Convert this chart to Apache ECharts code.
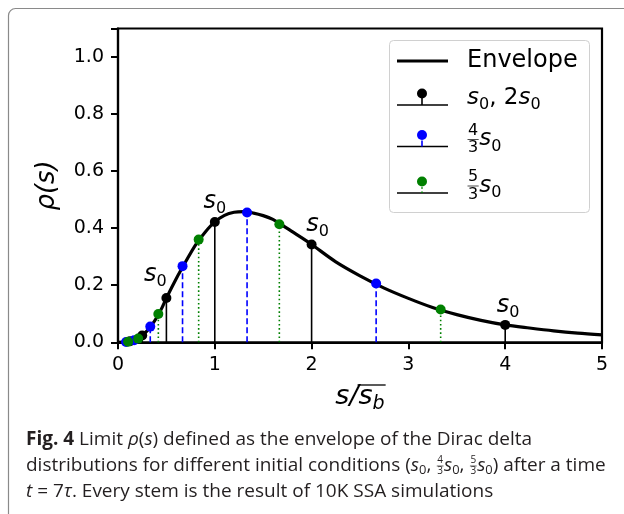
<!DOCTYPE html>
<html>
<head>
<meta charset="utf-8">
<script src="https://cdn.jsdelivr.net/npm/echarts@6/dist/echarts.min.js"></script>
<style>
html, body { margin: 0; padding: 0; background: #fff; }
#main { width: 624px; height: 514px; }
</style>
</head>
<body>
<div id="main"></div>
<script>
// envelope rho(s)
var envX = [0, 0.05, 0.1, 0.15, 0.2, 0.25, 0.3, 0.35, 0.4, 0.45, 0.5, 0.6, 0.7, 0.8, 0.9, 1.0,
            1.1, 1.2, 1.3, 1.4, 1.5, 1.6, 1.7, 1.8, 1.9, 2.0, 2.25, 2.5, 2.75, 3.0, 3.25, 3.5,
            3.75, 4.0, 4.25, 4.5, 4.75, 5.0];
var envY = [0, 0.0003, 0.002, 0.006, 0.013, 0.024, 0.04, 0.061, 0.087, 0.118, 0.155, 0.222, 0.283, 0.341, 0.386, 0.422,
            0.445, 0.456, 0.458, 0.453, 0.444, 0.431, 0.41, 0.388, 0.366, 0.343, 0.282, 0.233, 0.19, 0.154, 0.122, 0.097,
            0.077, 0.061, 0.05, 0.04, 0.032, 0.026];

// stems: s0, 2s0
var blackX = [0.125, 0.25, 0.5, 1, 2, 4];
var blackY = [0.004, 0.024, 0.155, 0.422, 0.343, 0.061];
// stems: 4/3 s0
var blueX = [0.0833, 0.1667, 0.3333, 0.6667, 1.3333, 2.6667];
var blueY = [0.001, 0.007, 0.055, 0.267, 0.455, 0.206];
// stems: 5/3 s0
var greenX = [0.1042, 0.2083, 0.4167, 0.8333, 1.6667, 3.3333];
var greenY = [0.002, 0.013, 0.099, 0.36, 0.414, 0.115];

// black stems that carry an "s0" tag, and where the tag sits (px offset)
var tagX = [0.5, 1, 2, 4];
var tagY = [0.155, 0.422, 0.343, 0.061];
var tagDx = [-11, 0, 6, 3];
var tagDy = [-20, -17, -17, -16];

var xTicks = [0, 1, 2, 3, 4, 5];
var yTicks = [0.0, 0.2, 0.4, 0.6, 0.8, 1.0];

var MATH = "'DejaVu Sans'";
var CAP = "'Open Sans', 'Liberation Sans', sans-serif";

var chart = echarts.init(document.getElementById('main'));

function pairs(xs, ys) {
    return xs.map(function (x, i) { return [x, ys[i]]; });
}

function stemSeries(name, xs, ys, color, dash) {
    return {
        name: name,
        type: 'custom',
        z: 3,
        data: pairs(xs, ys),
        renderItem: function (params, api) {
            var p0 = api.coord([api.value(0), 0]);
            var p1 = api.coord([api.value(0), api.value(1)]);
            return {
                type: 'line',
                shape: { x1: p0[0], y1: p0[1], x2: p1[0], y2: p1[1] },
                style: { stroke: color, lineWidth: 1.6, lineDash: dash }
            };
        }
    };
}

function dotSeries(name, xs, ys, color) {
    return {
        name: name,
        type: 'scatter',
        z: 4,
        symbol: 'circle',
        symbolSize: 10,
        itemStyle: { color: color, opacity: 1 },
        data: pairs(xs, ys)
    };
}

var option = {
    animation: false,
    backgroundColor: '#fff',
    grid: { left: 118, right: 22, top: 28.5, bottom: 171.7, show: true, borderColor: '#000', borderWidth: 2.2 },
    xAxis: {
        type: 'value', min: 0, max: 5, interval: 1,
        axisLine: { show: true, onZero: false, lineStyle: { color: '#000', width: 2.2 } },
        axisTick: { show: true, length: 7, lineStyle: { color: '#000', width: 2 } },
        axisLabel: { color: '#000', fontSize: 19, fontFamily: MATH, margin: 13,
            formatter: function (v) { return xTicks.indexOf(v) >= 0 ? String(v) : ''; } },
        splitLine: { show: false }
    },
    yAxis: {
        type: 'value', min: 0, max: 1.1, interval: 0.2,
        axisLine: { show: true, lineStyle: { color: '#000', width: 2.2 } },
        axisTick: { show: true, length: 7, lineStyle: { color: '#000', width: 2 } },
        axisLabel: { color: '#000', fontSize: 19, fontFamily: MATH, margin: 14,
            formatter: function (v) {
                for (var i = 0; i < yTicks.length; i++) {
                    if (Math.abs(yTicks[i] - v) < 1e-6) return yTicks[i].toFixed(1);
                }
                return '';
            } },
        splitLine: { show: false },
        name: 'ρ(s)',
        nameLocation: 'middle',
        nameRotate: 90,
        nameGap: 58,
        nameTextStyle: { color: '#000', fontSize: 26, fontFamily: MATH, fontStyle: 'italic' }
    },
    series: [
        {
            name: 'Envelope',
            type: 'line',
            z: 2,
            smooth: 0.3,
            showSymbol: false,
            symbol: 'none',
            lineStyle: { color: '#000', width: 3.2 },
            data: pairs(envX, envY)
        },
        stemSeries('s0 stems', blackX, blackY, '#000', null),
        stemSeries('4/3 stems', blueX, blueY, '#0000ff', [6, 3]),
        stemSeries('5/3 stems', greenX, greenY, '#008000', [1.6, 2.6]),
        dotSeries('s0', blackX, blackY, '#000'),
        dotSeries('4/3 s0', blueX, blueY, '#0000ff'),
        dotSeries('5/3 s0', greenX, greenY, '#008000')
    ]
};

chart.setOption(option);

// ---- text helpers ----
var mctx = document.createElement('canvas').getContext('2d');
function textW(t, font) { mctx.font = font; return mctx.measureText(t).width; }
function fnt(size, style, weight, fam) {
    return (style || 'normal') + ' ' + (weight || 'normal') + ' ' + size + 'px ' + fam;
}

// lay out a row of segments; seg = {t, font, dy} or {frac:[a,b], size, fam}
function row(segs, x, y, align, color) {
    var w = 0;
    segs.forEach(function (s) {
        s.w = s.frac ? textW(s.frac[0], fnt(s.size, 0, 0, s.fam)) + 2 : textW(s.t, s.font);
        w += s.w;
    });
    var cx = align === 'center' ? x - w / 2 : x;
    var out = [];
    segs.forEach(function (s) {
        if (s.frac) {
            var f = fnt(s.size, 0, 0, s.fam);
            out.push({ type: 'text', z: 50, style: { x: cx + s.w / 2, y: y - s.size * 0.55, text: s.frac[0], font: f, fill: color, align: 'center', verticalAlign: 'middle' } });
            out.push({ type: 'text', z: 50, style: { x: cx + s.w / 2, y: y + s.size * 0.55, text: s.frac[1], font: f, fill: color, align: 'center', verticalAlign: 'middle' } });
            out.push({ type: 'line', z: 50, shape: { x1: cx + 0.5, y1: y, x2: cx + s.w - 0.5, y2: y }, style: { stroke: color, lineWidth: 0.7 } });
        } else {
            out.push({ type: 'text', z: 50, style: { x: cx, y: y + (s.dy || 0), text: s.t, font: s.font, fill: color, align: 'left', verticalAlign: 'middle' } });
        }
        cx += s.w;
    });
    out.width = w;
    out.left = align === 'center' ? x - w / 2 : x;
    return out;
}

function s0segs(size) {
    return [
        { t: 's', font: fnt(size, 'italic', 0, MATH) },
        { t: '0', font: fnt(Math.round(size * 0.68), 0, 0, MATH), dy: size * 0.3 }
    ];
}

var g = [];

// outer figure frame
g.push({ type: 'rect', z: 0, shape: { x: 8.5, y: 8.5, width: 700, height: 600, r: 7 }, style: { fill: 'none', stroke: '#8a8a8a', lineWidth: 1.2 } });

// s0 tags on black stems
tagX.forEach(function (x, i) {
    var p = chart.convertToPixel({ gridIndex: 0 }, [x, tagY[i]]);
    g = g.concat(row(s0segs(24), p[0] + tagDx[i], p[1] + tagDy[i] - 3, 'center', '#000'));
});

// x axis name  s / s_b with overline
var xl = row([
    { t: 's/', font: fnt(27, 'italic', 0, MATH) },
    { t: 's', font: fnt(27, 'italic', 0, MATH) },
    { t: 'b', font: fnt(19, 'italic', 0, MATH), dy: 7 }
], 360, 397, 'center', '#000');
g = g.concat(xl);
var olx = xl.left + textW('s/', fnt(27, 'italic', 0, MATH)) - 1;
g.push({ type: 'line', z: 50, shape: { x1: olx, y1: 385, x2: xl.left + xl.width + 1, y2: 385 }, style: { stroke: '#000', lineWidth: 1.3 } });

// legend
var LX0 = 397, LX1 = 448, LMID = 422, LT = 467;
g.push({ type: 'rect', z: 40, shape: { x: 389.5, y: 40.5, width: 200, height: 172, r: 4 }, style: { fill: 'rgba(255,255,255,0.85)', stroke: '#d0d0d0', lineWidth: 1 } });
g.push({ type: 'line', z: 50, shape: { x1: LX0, y1: 61, x2: LX1, y2: 61 }, style: { stroke: '#000', lineWidth: 3.2 } });
g = g.concat(row([{ t: 'Envelope', font: fnt(24, 0, 0, MATH) }], LT, 61, 'left', '#000'));

function legendStem(yBase, color, dash) {
    g.push({ type: 'line', z: 50, shape: { x1: LX0, y1: yBase, x2: LX1, y2: yBase }, style: { stroke: '#000', lineWidth: 1.6 } });
    g.push({ type: 'line', z: 50, shape: { x1: LMID, y1: yBase, x2: LMID, y2: yBase - 11 }, style: { stroke: color, lineWidth: 1.6, lineDash: dash } });
    g.push({ type: 'circle', z: 51, shape: { cx: LMID, cy: yBase - 11.5, r: 5 }, style: { fill: color } });
}
legendStem(105, '#000', null);
legendStem(146.5, '#0000ff', [6, 3]);
legendStem(193, '#008000', [1.6, 2.6]);

g = g.concat(row(
    s0segs(23).concat([{ t: ', 2', font: fnt(23, 0, 0, MATH) }]).concat(s0segs(23)),
    LT, 98, 'left', '#000'));
g = g.concat(row([{ frac: ['4', '3'], size: 16, fam: MATH }].concat(s0segs(23)), LT, 139.5, 'left', '#000'));
g = g.concat(row([{ frac: ['5', '3'], size: 16, fam: MATH }].concat(s0segs(23)), LT, 186, 'left', '#000'));

// caption: font size fitted so the first line spans the same width as in the figure
var capLine1 = [' Limit ', 'ρ', '(', 's', ') defined as the envelope of the Dirac delta'];
var probe = textW('Fig. 4', fnt(17, 0, 'bold', CAP)) + textW(capLine1.join(''), fnt(17, 0, 0, CAP));
var CS = Math.min(19, 17 * 522 / probe);
var CC = '#231f20';
var cR = fnt(CS, 0, 0, CAP), cB = fnt(CS, 0, 'bold', CAP), cI = fnt(CS, 'italic', 0, CAP), cS = fnt(CS * 0.68, 0, 0, CAP);
g = g.concat(row([
    { t: 'Fig. 4', font: cB },
    { t: ' Limit ', font: cR },
    { t: 'ρ', font: cI },
    { t: '(', font: cR },
    { t: 's', font: cI },
    { t: ') defined as the envelope of the Dirac delta', font: cR }
], 26, 440, 'left', CC));
g = g.concat(row([
    { t: 'distributions for different initial conditions (', font: cR },
    { t: 's', font: cI }, { t: '0', font: cS, dy: 4 },
    { t: ', ', font: cR },
    { frac: ['4', '3'], size: 10, fam: CAP },
    { t: 's', font: cI }, { t: '0', font: cS, dy: 4 },
    { t: ', ', font: cR },
    { frac: ['5', '3'], size: 10, fam: CAP },
    { t: 's', font: cI }, { t: '0', font: cS, dy: 4 },
    { t: ') after a time', font: cR }
], 26, 466, 'left', CC));
g = g.concat(row([
    { t: 't', font: cI },
    { t: ' = 7', font: cR },
    { t: 'τ', font: cI },
    { t: '. Every stem is the result of 10K SSA simulations', font: cR }
], 26, 492, 'left', CC));

chart.setOption({ graphic: { elements: g } });

window.addEventListener('resize', function () {
    chart.resize();
});
</script>
</body>
</html>
